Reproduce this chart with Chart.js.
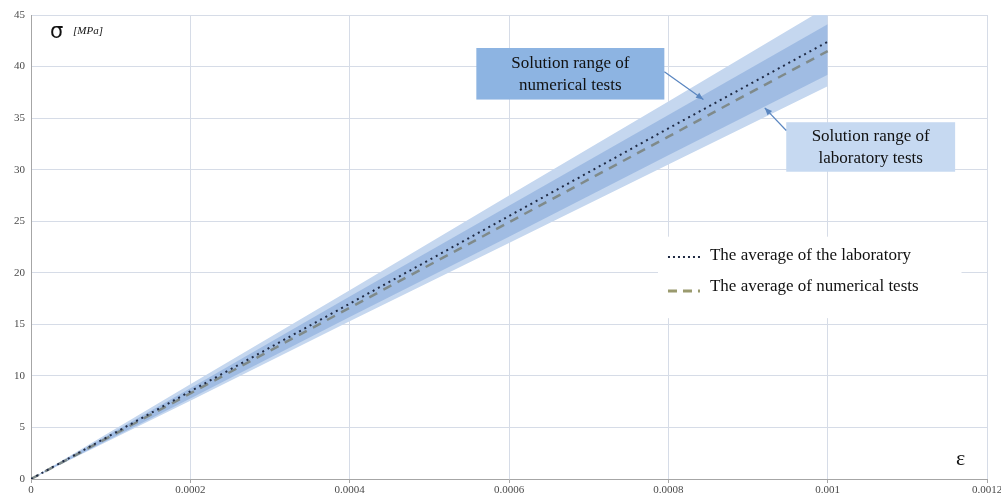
<!DOCTYPE html>
<html>
<head>
<meta charset="utf-8">
<script src="https://cdn.jsdelivr.net/npm/chart.js@4/dist/chart.umd.min.js"></script>
<style>
  html, body { margin: 0; padding: 0; background: #fff; }
  #wrap { width: 1001px; height: 500px; }
</style>
</head>
<body>
<div id="wrap"><canvas id="chart"></canvas></div>
<script>
// strain values (x) and stress values (y, MPa)
const strain = [0, 0.0002, 0.0004, 0.0006, 0.0008, 0.001];
const labAverage = [0, 8.5, 17.0, 25.5, 34.0, 42.4];
const numAverage = [0, 8.3, 16.6, 24.9, 33.2, 41.5];
const labRangeUpper = [0, 9.2, 18.3, 27.5, 36.6, 45.8];
const labRangeLower = [0, 7.6, 15.3, 22.9, 30.5, 38.1];
const numRangeUpper = [0, 8.8, 17.7, 26.5, 35.3, 44.1];
const numRangeLower = [0, 7.8, 15.7, 23.5, 31.4, 39.2];

const xTicks = [0, 0.0002, 0.0004, 0.0006, 0.0008, 0.001, 0.0012];
const yTicks = [0, 5, 10, 15, 20, 25, 30, 35, 40, 45];

const serif = '"Liberation Serif", "Times New Roman", serif';

function pts(ys) {
  return strain.map((x, i) => ({ x: x, y: ys[i] }));
}

// callout boxes, in data units
const callouts = [
  { x0: 0.000559, x1: 0.000795, y0: 41.8, y1: 36.8, fill: '#8db4e2',
    lines: ['Solution range of', 'numerical tests'],
    from: [0.000795, 39.5], to: [0.000844, 36.8] },
  { x0: 0.000948, x1: 0.00116, y0: 34.6, y1: 29.8, fill: '#c6d9f1',
    lines: ['Solution range of', 'laboratory tests'],
    from: [0.000948, 33.8], to: [0.000921, 36.0] }
];

function arrow(ctx, x1, y1, x2, y2) {
  const a = Math.atan2(y2 - y1, x2 - x1);
  ctx.beginPath();
  ctx.moveTo(x1, y1);
  ctx.lineTo(x2, y2);
  ctx.stroke();
  ctx.beginPath();
  ctx.moveTo(x2, y2);
  ctx.lineTo(x2 - 8 * Math.cos(a - 0.4), y2 - 8 * Math.sin(a - 0.4));
  ctx.lineTo(x2 - 8 * Math.cos(a + 0.4), y2 - 8 * Math.sin(a + 0.4));
  ctx.closePath();
  ctx.fill();
}

const extras = {
  id: 'extras',
  afterDatasetsDraw(chart) {
    const ctx = chart.ctx;
    const xs = chart.scales.x, ys = chart.scales.y;
    const X = v => xs.getPixelForValue(v), Y = v => ys.getPixelForValue(v);
    ctx.save();

    // axis symbols
    ctx.fillStyle = '#111';
    ctx.textBaseline = 'middle';
    ctx.font = '21px "DejaVu Sans", sans-serif';
    ctx.fillText('σ', 50, 33);
    ctx.font = 'italic 11px ' + serif;
    ctx.fillText('[MPa]', 73, 31);
    ctx.font = '22px ' + serif;
    ctx.fillText('ε', 956, 459);

    // legend
    const lx0 = X(0.000787), lx1 = X(0.001168), ly0 = Y(23.5), ly1 = Y(15.6);
    ctx.fillStyle = '#fff';
    ctx.fillRect(lx0, ly0, lx1 - lx0, ly1 - ly0);
    ctx.lineWidth = 2;
    ctx.strokeStyle = '#1f2a44';
    ctx.setLineDash([2, 3]);
    ctx.beginPath(); ctx.moveTo(lx0 + 10, 257); ctx.lineTo(lx0 + 42, 257); ctx.stroke();
    ctx.strokeStyle = '#9a9a6e';
    ctx.lineWidth = 3;
    ctx.setLineDash([9, 6]);
    ctx.beginPath(); ctx.moveTo(lx0 + 10, 291); ctx.lineTo(lx0 + 42, 291); ctx.stroke();
    ctx.setLineDash([]);
    ctx.fillStyle = '#111';
    ctx.font = '17px ' + serif;
    ctx.fillText('The average of the laboratory', lx0 + 52, 256);
    ctx.fillText('The average of numerical tests', lx0 + 52, 287);

    // callouts
    ctx.textAlign = 'center';
    callouts.forEach(c => {
      const bx0 = X(c.x0), bx1 = X(c.x1), by0 = Y(c.y0), by1 = Y(c.y1);
      ctx.fillStyle = c.fill;
      ctx.fillRect(bx0, by0, bx1 - bx0, by1 - by0);
      ctx.fillStyle = '#111';
      ctx.font = '17px ' + serif;
      const cx = (bx0 + bx1) / 2, cy = (by0 + by1) / 2;
      ctx.fillText(c.lines[0], cx, cy - 10);
      ctx.fillText(c.lines[1], cx, cy + 12);
      ctx.strokeStyle = '#5a86c0';
      ctx.fillStyle = '#5a86c0';
      ctx.lineWidth = 1.2;
      arrow(ctx, X(c.from[0]), Y(c.from[1]), X(c.to[0]), Y(c.to[1]));
    });
    ctx.restore();
  }
};

new Chart(document.getElementById('chart'), {
  type: 'line',
  data: {
    datasets: [
      { label: 'The average of the laboratory', data: pts(labAverage), order: 0,
        borderColor: '#1f2a44', borderWidth: 2, borderDash: [2, 4], fill: false },
      { label: 'The average of numerical tests', data: pts(numAverage), order: 1,
        borderColor: '#7f8a8a', borderWidth: 2.5, borderDash: [9, 7], fill: false },
      { label: 'numUpper', data: pts(numRangeUpper), order: 2,
        borderWidth: 0, borderColor: 'rgba(0,0,0,0)', backgroundColor: 'rgba(115,155,212,0.45)', fill: '+1' },
      { label: 'numLower', data: pts(numRangeLower), order: 3,
        borderWidth: 0, borderColor: 'rgba(0,0,0,0)', fill: false },
      { label: 'labUpper', data: pts(labRangeUpper), order: 4,
        borderWidth: 0, borderColor: 'rgba(0,0,0,0)', backgroundColor: '#c5d7ef', fill: '+1' },
      { label: 'labLower', data: pts(labRangeLower), order: 5,
        borderWidth: 0, borderColor: 'rgba(0,0,0,0)', fill: false }
    ]
  },
  options: {
    responsive: true,
    maintainAspectRatio: false,
    animation: false,
    elements: { point: { radius: 0 }, line: { tension: 0 } },
    layout: { padding: { top: 15, right: 14, left: 0, bottom: 0 } },
    plugins: { legend: { display: false }, tooltip: { enabled: false } },
    scales: {
      x: {
        type: 'linear', min: 0, max: 0.0012,
        afterBuildTicks: s => { s.ticks = xTicks.map(v => ({ value: v })); },
        afterFit: s => { s.height = 21; s.paddingRight = 0; s.paddingLeft = 0; },
        ticks: { color: '#4a4a4a', font: { family: serif, size: 11 }, padding: 1,
          maxRotation: 0, callback: v => String(v) },
        grid: { color: '#d6dce7', tickLength: 4, tickColor: '#a6a6a6' },
        border: { color: '#a6a6a6' }
      },
      y: {
        min: 0, max: 45,
        afterBuildTicks: s => { s.ticks = yTicks.map(v => ({ value: v })); },
        afterFit: s => { s.width = 31; },
        ticks: { color: '#4a4a4a', font: { family: serif, size: 11 }, padding: 6 },
        grid: { color: '#d6dce7', drawTicks: false },
        border: { color: '#a6a6a6' }
      }
    }
  },
  plugins: [extras]
});
</script>
</body>
</html>
